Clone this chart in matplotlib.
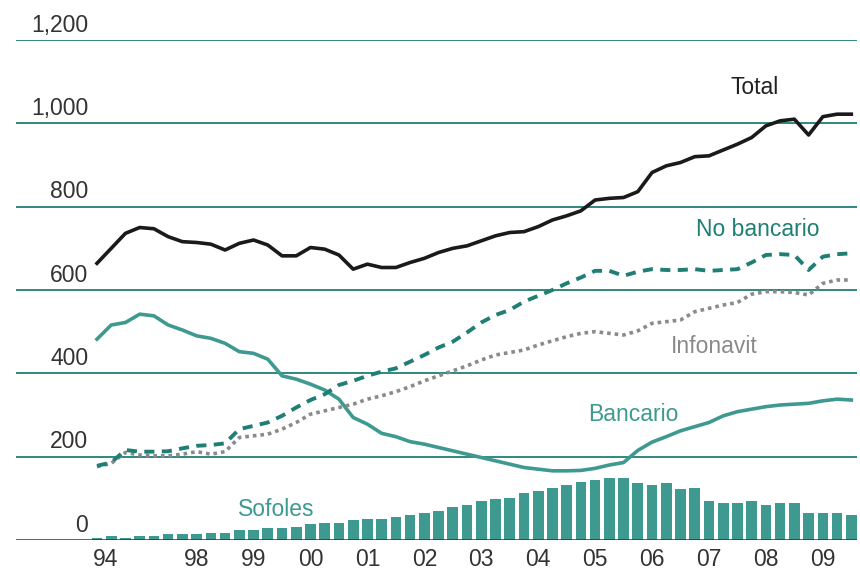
import matplotlib.pyplot as plt
import matplotlib.transforms as mtransforms
import numpy as np

plt.rcParams['font.family'] = ['Liberation Sans', 'DejaVu Sans']

# quarterly series (first points cover 94-97), miles de millones de pesos
total = [664, 700, 736, 750, 747, 728, 716, 714, 710, 696, 712, 720, 708, 682,
         682, 702, 698, 684, 650, 662, 654, 654, 666, 676, 690, 700, 706, 718,
         730, 738, 740, 752, 768, 778, 790, 816, 820, 822, 836, 882, 898, 906,
         920, 922, 936, 950, 966, 994, 1006, 1010, 972, 1016, 1022, 1022]
bancario = [482, 516, 522, 542, 538, 516, 504, 490, 484, 472, 452, 448, 434, 394,
            386, 374, 360, 338, 294, 278, 256, 248, 236, 230, 222, 214, 206, 198,
            190, 182, 174, 170, 166, 166, 167, 172, 180, 186, 215, 235, 248, 262,
            272, 282, 298, 308, 314, 320, 324, 326, 328, 334, 338, 336]
no_bancario = [178, 186, 216, 212, 212, 213, 220, 226, 228, 232, 266, 274, 282, 298,
               318, 336, 350, 372, 382, 394, 404, 412, 428, 444, 462, 476, 498, 522,
               540, 552, 572, 586, 600, 616, 630, 646, 646, 634, 644, 650, 648, 648,
               650, 646, 648, 650, 666, 684, 686, 684, 648, 680, 686, 688]
infonavit = [176, 184, 210, 204, 202, 202, 206, 212, 206, 212, 246, 250, 254, 266,
             282, 302, 310, 318, 326, 338, 346, 356, 368, 382, 394, 406, 418, 432,
             444, 450, 456, 468, 478, 488, 496, 500, 496, 492, 502, 520, 524, 528,
             548, 556, 564, 570, 590, 596, 596, 594, 588, 616, 624, 624]
sofoles = [4, 9, 5, 9, 9, 14, 14, 14, 18, 18, 23, 23, 28, 28, 32, 38, 42, 42, 47,
           51, 51, 56, 61, 66, 70, 80, 84, 94, 98, 102, 112, 117, 126, 131, 140,
           145, 150, 150, 136, 131, 136, 122, 126, 94, 89, 89, 94, 84, 89, 89,
           66, 66, 66, 61]

year_labels = ['94', '98', '99', '00', '01', '02', '03', '04', '05', '06', '07', '08', '09']
year_pos = [0.6, 7, 11, 15, 19, 23, 27, 31, 35, 39, 43, 47, 51]
y_levels = [0, 200, 400, 600, 800, 1000, 1200]

teal = '#1f7f74'
teal_light = '#3e9a91'
x = np.arange(len(total))

fig = plt.figure(figsize=(8.6, 5.73), dpi=100)
ax = fig.add_axes([16 / 860, 1 - 540 / 573, 841 / 860, 500 / 573])

for v in y_levels[1:]:
    ax.axhline(v, color=teal, lw=1.3, zorder=1)
ax.bar(x, sofoles, width=0.75, color=teal_light, zorder=2)
ax.axhline(0, color='#333333', lw=1.8, zorder=3)

ax.plot(x, bancario, color=teal_light, lw=2.6, zorder=4)
ax.plot(x, infonavit, color='#8a8a8a', lw=2.6, dashes=(1, 1.1), zorder=4)
ax.plot(x, no_bancario, color=teal, lw=2.8, dashes=(2.6, 1.9), zorder=5)
ax.plot(x, total, color='#1a1a1a', lw=2.6, zorder=6)

ax.set_xlim(-5.69, 53.4)
ax.set_ylim(0, 1200)

# y labels sit above their gridlines
off = mtransforms.offset_copy(ax.get_yaxis_transform(), fig=fig, x=0, y=6, units='points')
for v in y_levels:
    ax.text(0.086, v, f'{v:,}', transform=off, ha='right', va='baseline',
            fontsize=16.5, color='#333333')

ax.set_xticks(year_pos)
ax.set_xticklabels(year_labels, fontsize=16.5, color='#333333')
ax.tick_params(axis='x', length=0, pad=6)
ax.set_yticks([])
for s in ax.spines.values():
    s.set_visible(False)

ax.text(46.2, 1085, 'Total', fontsize=16.5, color='#222222', ha='center', va='center')
ax.text(46.4, 745, 'No bancario', fontsize=16.5, color=teal, ha='center', va='center')
ax.text(43.4, 464, 'Infonavit', fontsize=16.5, color='#8a8a8a', ha='center', va='center')
ax.text(37.7, 302, 'Bancario', fontsize=16.5, color=teal_light, ha='center', va='center')
ax.text(12.6, 74, 'Sofoles', fontsize=16.5, color=teal_light, ha='center', va='center')

fig.savefig('out.png', dpi=100)
